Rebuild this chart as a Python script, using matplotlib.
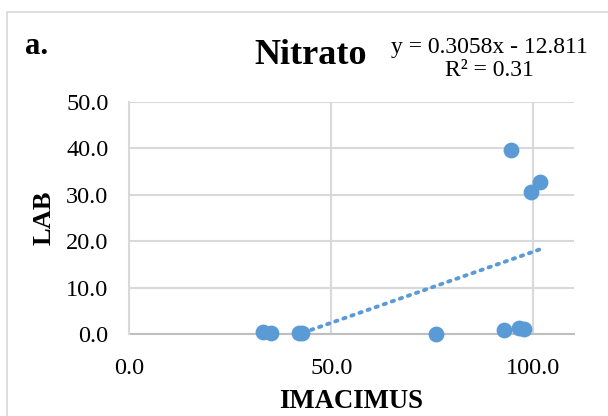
import numpy as np
import matplotlib
matplotlib.use("Agg")
import matplotlib.pyplot as plt
from matplotlib.patches import Rectangle

# ---------- DATA ----------
imacimus = [33.0, 35.2, 42.0, 42.8, 76.0, 92.8, 94.4, 96.4, 97.6, 99.5, 101.7]
lab = [0.4, 0.2, 0.2, 0.3, 0.1, 1.0, 39.7, 1.4, 1.2, 30.7, 32.8]
slope = 0.3058
intercept = -12.811
r2 = 0.31
x_ticks = [0, 50, 100]
y_ticks = [0, 10, 20, 30, 40, 50]

# ---------- STYLE ----------
blue = "#5B9BD5"
grid_grey = "#D9D9D9"
axis_grey = "#BFBFBF"
serif = ["Liberation Serif", "DejaVu Serif"]

fig = plt.figure(figsize=(6.08, 4.16), dpi=100)
ax = fig.add_axes([0.2127, 0.1964, 0.9434 - 0.2127, 0.7548 - 0.1964])

# outer chart border (runs past right/bottom edge of the picture)
fig.patches.append(Rectangle((7 / 608, -0.1), 1.2, 1 - 12 / 416 + 0.1,
                             transform=fig.transFigure, fill=False,
                             edgecolor=grid_grey, linewidth=1.2))

# trendline
xs = np.array([min(imacimus), max(imacimus)])
ax.plot(xs, slope * xs + intercept, linestyle=(0, (0.6, 1.6)), color=blue,
        linewidth=2.8, dash_capstyle="round", zorder=3)

ax.scatter(imacimus, lab, s=130, color=blue, zorder=4, clip_on=False,
           linewidths=0)

ax.set_xlim(0, 110)
ax.set_ylim(0, 50)
ax.set_xticks(x_ticks)
ax.set_yticks(y_ticks)
ax.set_xticklabels([f"{v:.1f}" for v in x_ticks], family=serif, fontsize=17.5)
ax.set_yticklabels([f"{v:.1f}" for v in y_ticks], family=serif, fontsize=17.5)
ax.tick_params(axis="x", length=0, pad=17)
ax.tick_params(axis="y", length=0, pad=15)

ax.grid(True, color=grid_grey, linewidth=1.5)
ax.set_axisbelow(True)
for side in ["top", "right"]:
    ax.spines[side].set_visible(False)
ax.spines["left"].set_color(grid_grey)
ax.spines["left"].set_linewidth(1.5)
ax.spines["bottom"].set_color(axis_grey)
ax.spines["bottom"].set_linewidth(1.5)
ax.spines["bottom"].set_zorder(2)

ax.set_xlabel("IMACIMUS", family=serif, fontsize=19.3, fontweight="bold",
              labelpad=7)
ax.set_ylabel("LAB", family=serif, fontsize=19, fontweight="bold",
              labelpad=8)

# titles and annotations
fig.text(25 / 608, 1 - 46 / 416, "a.", family=serif, fontsize=22,
         fontweight="bold", va="center", ha="left")
fig.text(311 / 608, 1 - 56 / 416, "Nitrato", family=serif, fontsize=26,
         fontweight="bold", va="center", ha="center")
fig.text(489 / 608, 1 - 59 / 416,
         f"y = {slope}x - {abs(intercept)}\nR² = {r2}",
         family=serif, fontsize=17, va="center", ha="center",
         linespacing=1.15)

fig.savefig("out.png", dpi=100)
